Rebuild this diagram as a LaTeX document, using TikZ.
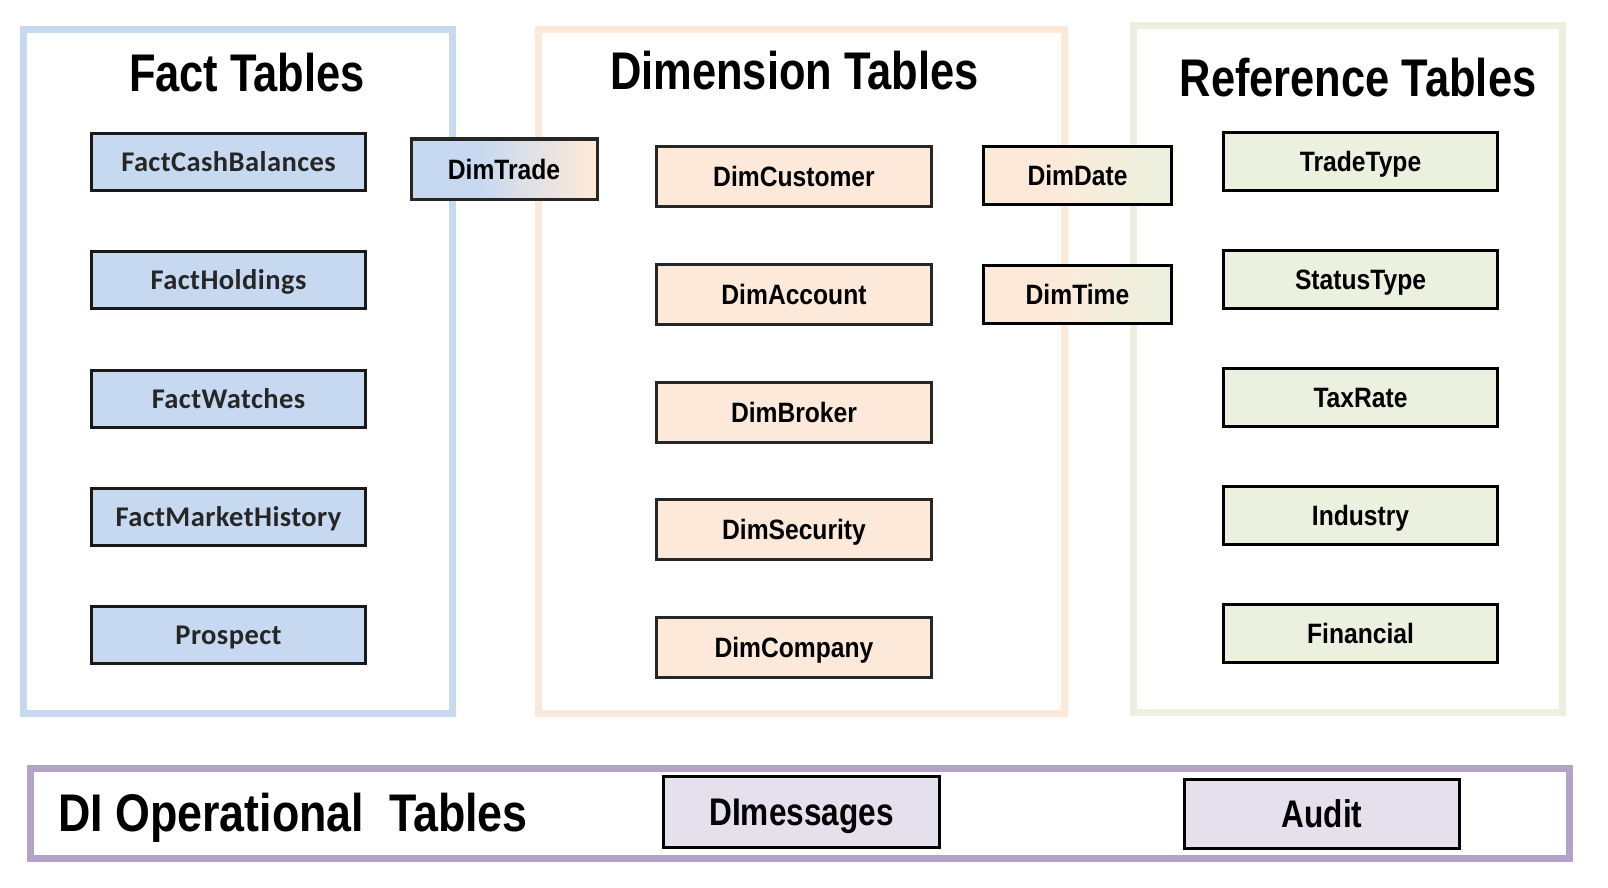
\documentclass[tikz,border=0pt]{standalone}
\usepackage{fontspec}
\setmainfont{Liberation Sans}
\newfontfamily\titlefont[FakeStretch=0.82]{Liberation Sans}
\newfontfamily\dititlefont[FakeStretch=0.845]{Liberation Sans}
\newfontfamily\boxfont[FakeStretch=0.88]{Liberation Sans}
\newfontfamily\factfont[LetterSpace=1.5]{Carlito}
\definecolor{factblue}{HTML}{C6D9F1}
\definecolor{dimorange}{HTML}{FDE9D9}
\definecolor{refgreen}{HTML}{EBF1DE}
\definecolor{diframe}{HTML}{B3A2C7}
\definecolor{difill}{HTML}{E6E0EC}
\pgfdeclarehorizontalshading{tradeshade}{100bp}{color(0bp)=(factblue); color(25bp)=(factblue); color(43bp)=(factblue); color(73bp)=(dimorange); color(100bp)=(dimorange)}
\pgfdeclarehorizontalshading{dateshade}{100bp}{color(0bp)=(dimorange); color(25bp)=(dimorange); color(43bp)=(dimorange); color(72bp)=(refgreen); color(100bp)=(refgreen)}
\begin{document}
\begin{tikzpicture}[x=1pt,y=-1pt,
  frame/.style={line width=7pt},
  titletext/.style={anchor=base, inner sep=0pt, font=\titlefont\bfseries\fontsize{53}{60}\selectfont},
  factbox/.style={draw=black!90, line width=3pt, fill=factblue, inner sep=0pt,
    minimum width=274pt, minimum height=57pt, text=black!85, text height=18.5pt, text depth=0pt,
    font=\factfont\bfseries\fontsize{28.5}{30}\selectfont},
  tabbox/.style={draw=black!85, line width=3pt, inner sep=0pt, text height=20pt, text depth=0pt,
    font=\boxfont\bfseries\fontsize{28}{30}\selectfont},
  dimbox/.style={tabbox, fill=dimorange, minimum width=275pt, minimum height=60pt},
  refbox/.style={tabbox, draw=black, fill=refgreen, minimum width=274pt, minimum height=58pt},
  dibox/.style={draw=black, line width=3pt, fill=difill, inner sep=0pt, text height=27.6pt, text depth=0pt,
    font=\titlefont\bfseries\fontsize{38.5}{42}\selectfont}
]
\useasboundingbox (0,0) rectangle (1608,888);
\fill[white] (0,0) rectangle (1608,888);

% group frames
\draw[frame, draw=factblue] (23.5,29.5) rectangle (452.5,713);
\draw[frame, draw=dimorange] (538.5,29.5) rectangle (1064,713);
\draw[frame, draw=refgreen] (1133.5,25.7) rectangle (1562.5,712.5);
\draw[frame, draw=diframe] (30.5,768) rectangle (1569,858.5);

% titles
\node[titletext] (facttitle) at (247,92) {Fact Tables};
\node[titletext] (dimtitle) at (794.5,90) {Dimension Tables};
\node[titletext] (reftitle) at (1358,97) {Reference Tables};
\node[titletext, anchor=base west, font=\dititlefont\bfseries\fontsize{53}{60}\selectfont] (dititle) at (58,831) {DI Operational~~Tables};

% fact tables
\node[factbox] (fcash) at (228.5,162.3) {FactCashBalances};
\node[factbox] (fhold) at (228.5,280.2) {FactHoldings};
\node[factbox] (fwatch) at (228.5,399.2) {FactWatches};
\node[factbox] (fmkt) at (228.5,517.1) {FactMarketHistory};
\node[factbox] (fprosp) at (228.5,635) {Prospect};

% dimension tables
\node[tabbox, shading=tradeshade, minimum width=186pt, minimum height=60pt] (dtrade) at (504,169) {DimTrade};
\node[dimbox] (dcust) at (794,176.5) {DimCustomer};
\node[dimbox] (dacct) at (794,294.25) {DimAccount};
\node[dimbox] (dbrok) at (794,412) {DimBroker};
\node[dimbox] (dsec) at (794,529.75) {DimSecurity};
\node[dimbox] (dcomp) at (794,647.5) {DimCompany};
\node[tabbox, draw=black, shading=dateshade, minimum width=188pt, minimum height=58pt] (ddate) at (1077.5,175.5) {DimDate};
\node[tabbox, draw=black, shading=dateshade, minimum width=188pt, minimum height=58pt] (dtime) at (1077.5,294) {DimTime};

% reference tables
\node[refbox] (rtrade) at (1360.5,161.5) {TradeType};
\node[refbox] (rstat) at (1360.5,279.5) {StatusType};
\node[refbox] (rtax) at (1360.5,397.5) {TaxRate};
\node[refbox] (rind) at (1360.5,515.5) {Industry};
\node[refbox] (rfin) at (1360.5,633.5) {Financial};

% DI operational tables
\node[dibox, minimum width=276pt, minimum height=71pt] (dimsg) at (801.5,812) {DImessages};
\node[dibox, minimum width=275pt, minimum height=69pt] (audit) at (1322,814) {Audit};
\end{tikzpicture}
\end{document}
